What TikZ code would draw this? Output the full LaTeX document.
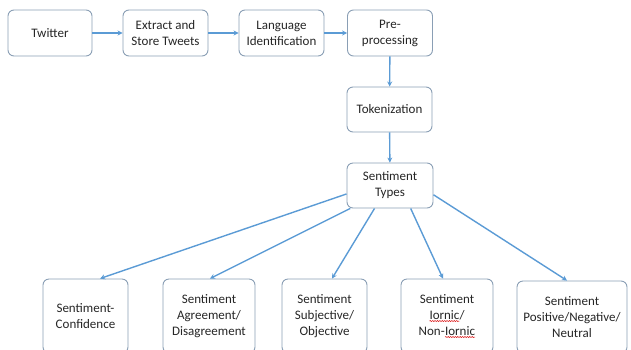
\documentclass[tikz,border=0pt]{standalone}
\usepackage{fontspec}
\setmainfont{Carlito}
\usetikzlibrary{arrows.meta,calc,decorations.pathmorphing}
\definecolor{arrowblue}{HTML}{5B9BD5}
\definecolor{boxedge}{HTML}{8A9FB5}
\definecolor{txt}{HTML}{262626}
\newcommand\spellerr[1]{\tikz[baseline=(w.base),x=1cm,y=1cm]{\node[draw=none,fill=none,rounded corners=0pt,minimum width=0pt,minimum height=0pt,inner sep=0pt,outer sep=0pt,text=txt,font=\fontsize{13}{16}\selectfont](w){#1};\draw[red!85!black,line width=0.5pt,rounded corners=0pt,decorate,decoration={snake,amplitude=0.5pt,segment length=2.4pt}] ([yshift=-1.8pt]w.base west)--([yshift=-1.8pt]w.base east);}}
\tikzset{
  box/.style={draw=boxedge, line width=0.9pt, rounded corners=6pt, fill=white,
    align=center, text=txt, inner sep=1pt,
    font=\fontsize{13}{16}\selectfont},
  conn/.style={draw=arrowblue, line width=1.4pt, -{Stealth[length=5pt,width=5pt]}}
}
\begin{document}
\begin{tikzpicture}[x=1pt,y=-1pt]
\useasboundingbox (0,0) rectangle (631,349);
\begin{scope}
\clip (0,0) rectangle (631,349);
% top row
\node[box, minimum width=84pt, minimum height=46pt] (twitter) at (50,33) {Twitter};
\node[box, minimum width=85pt, minimum height=46pt] (extract) at (165.5,33) {Extract and\\Store Tweets};
\node[box, minimum width=85pt, minimum height=46pt] (lang) at (281.5,33) {Language\\Identification};
\node[box, minimum width=85pt, minimum height=46pt] (pre) at (390,33) {Pre-\\processing};
\node[box, minimum width=85pt, minimum height=45pt] (tok) at (389.5,109.5) {Tokenization};
\node[box, minimum width=86pt, minimum height=45pt] (types) at (390,185.5) {Sentiment\\Types};
% bottom row
\node[box, minimum width=85pt, minimum height=74pt] (conf) at (85.5,316) {Sentiment-\\Confidence};
\node[box, minimum width=92pt, minimum height=74pt] (agree) at (209,316) {Sentiment\\Agreement/\\Disagreement};
\node[box, minimum width=85pt, minimum height=74pt] (subj) at (324.5,316) {Sentiment\\Subjective/\\Objective};
\node[box, minimum width=92pt, minimum height=74pt] (iron) at (447,316) {Sentiment\\\spellerr{Iornic}/\\Non-\spellerr{Iornic}};
\node[box, minimum width=110pt, minimum height=72pt] (pos) at (572,317) {Sentiment\\Positive/Negative/\\Neutral};
\end{scope}
% connectors
\draw[conn] (twitter) -- (extract);
\draw[conn] (extract) -- (lang);
\draw[conn] (lang) -- (pre);
\draw[conn] (pre) -- (tok);
\draw[conn] (tok) -- (types);
\draw[conn] (types.191) -- ($(conf.north)+(14.5,0)$);
\draw[conn] (types.210) -- ($(agree.north)+(1,0)$);
\draw[conn] (types.236) -- ($(subj.north)+(7.5,0)$);
\draw[conn] (types.-48) -- ($(iron.north)+(-4,0)$);
\draw[conn] (types.-12.5) -- ($(pos.north)+(-5,0)$);
\end{tikzpicture}
\end{document}
